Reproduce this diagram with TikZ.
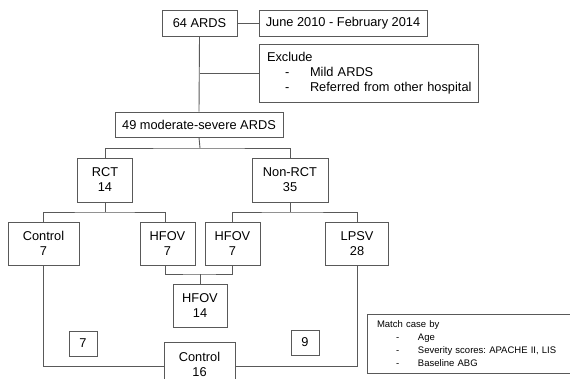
\documentclass[tikz,border=0pt]{standalone}
\usepackage{fontspec}
\setmainfont{Liberation Sans}
\frenchspacing
\begin{document}
\begin{tikzpicture}[x=1pt,y=-1pt,
  box/.style={draw=black!65, line width=0.9pt, inner sep=0pt, align=center, font=\fontsize{12.8}{15}\selectfont},
  conn/.style={draw=black!65, line width=0.9pt}]
\useasboundingbox (0,0) rectangle (570,378);
\clip (0,0) rectangle (570,378);
\fill[white] (0,0) rectangle (570,378);

\node[box, minimum width=75, minimum height=26] (a64) at (199.5,23) {64 ARDS};
\node[box, minimum width=168, minimum height=26] (june) at (343,23) {June 2010 - February 2014};
\node[box, minimum width=219, minimum height=58, text width=203, inner xsep=8pt, align=left] (excl) at (368.5,73) {\mbox{Exclude}\\\mbox{\makebox[43pt][l]{\hspace*{18pt}-}Mild ARDS}\\\mbox{\makebox[43pt][l]{\hspace*{18pt}-}Referred from other hospital}};
\node[box, minimum width=168, minimum height=25] (m49) at (199,124.5) {49 moderate-severe ARDS};
\node[box, minimum width=55, minimum height=44] (rct) at (105,180) {RCT\\14};
\node[box, minimum width=76, minimum height=44] (nonrct) at (290,180) {Non-RCT\\35};
\node[box, minimum width=71, minimum height=43] (ctl7) at (43.5,243.5) {Control\\7};
\node[box, minimum width=55, minimum height=43] (hfovL) at (167.5,243.5) {HFOV\\7};
\node[box, minimum width=55, minimum height=43] (hfovR) at (232.5,243.5) {HFOV\\7};
\node[box, minimum width=63, minimum height=43] (lpsv) at (357,243.5) {LPSV\\28};
\node[box, minimum width=54, minimum height=43] (hfov14) at (200,305.5) {HFOV\\14};
\node[box, minimum width=28, minimum height=25] (n7) at (83,343.5) {7};
\node[box, minimum width=71, minimum height=44] (ctl16) at (199.5,364) {Control\\16};
\node[box, minimum width=28, minimum height=25] (n9) at (305,342.5) {9};
\node[box, minimum height=59, text width=190, inner xsep=10pt, align=left, font=\fontsize{9.5}{13}\selectfont] (match) at (472,343.5) {\mbox{Match case by}\\\mbox{\makebox[41pt][l]{\hspace*{19pt}-}Age}\\\mbox{\makebox[41pt][l]{\hspace*{19pt}-}Severity scores: APACHE II, LIS}\\\mbox{\makebox[41pt][l]{\hspace*{19pt}-}Baseline ABG}};

\coordinate (j1) at (200,148);
\coordinate (j2) at (105,212);
\coordinate (j3) at (290,212);
\coordinate (j4) at (200,274);

\draw[conn] (a64) -- (june);
\draw[conn] (a64.south) -- (m49.north);
\draw[conn] (a64.south |- excl.west) -- (excl.west);
\draw[conn] (m49.south) -- (j1);
\draw[conn] (rct.north) |- (j1) -| (nonrct.north);
\draw[conn] (rct.south) -- (j2);
\draw[conn] (ctl7.north) |- (j2) -| ([xshift=-2.5pt]hfovL.north);
\draw[conn] (nonrct.south) -- (j3);
\draw[conn] (hfovR.north) |- (j3) -| (lpsv.north);
\draw[conn] ([xshift=-2.5pt]hfovL.south) |- (j4) -| (hfovR.south);
\draw[conn] (j4) -- (hfov14.north);
\draw[conn] (ctl7.south) |- ([yshift=-2pt]ctl16.west);
\draw[conn] (lpsv.south) |- ([yshift=-2pt]ctl16.east);
\end{tikzpicture}
\end{document}
